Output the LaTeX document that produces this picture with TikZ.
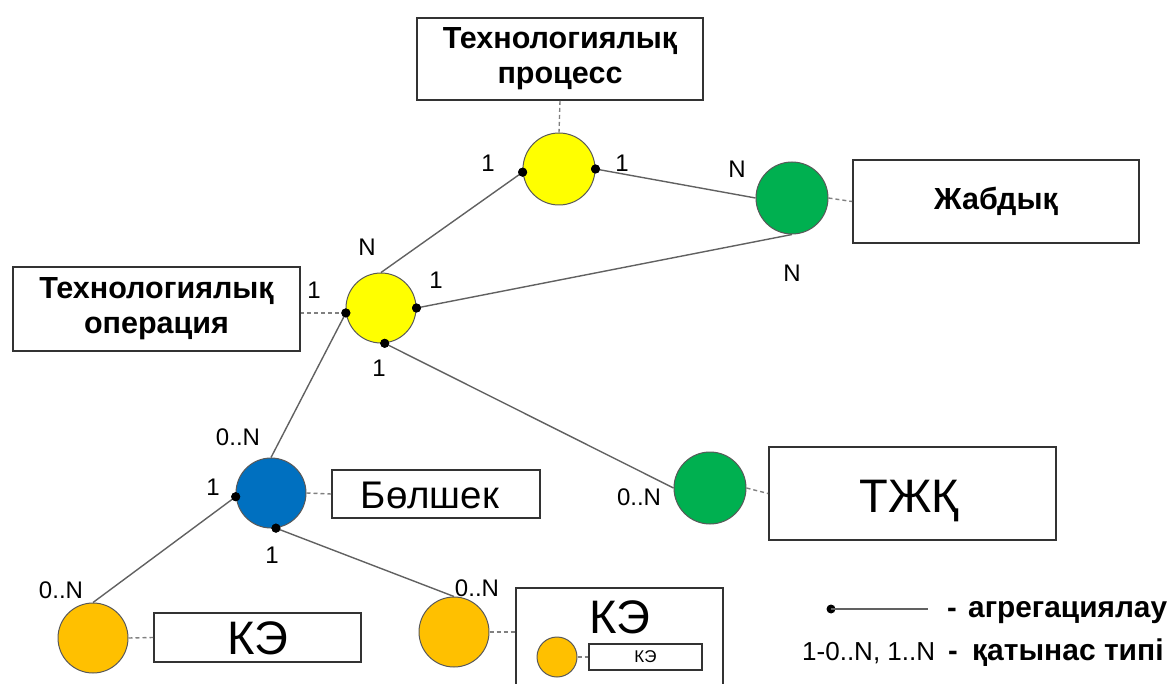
\documentclass[tikz,border=0pt]{standalone}
\usepackage{fontspec}
\setmainfont{Liberation Sans}
\definecolor{cyel}{HTML}{FFFF00}
\definecolor{cgrn}{HTML}{00B050}
\definecolor{cblu}{HTML}{0070C0}
\definecolor{corg}{HTML}{FFC000}
\begin{document}
\begin{tikzpicture}[x=1pt,y=-1pt,
  box/.style={draw=black!80, line width=1.8pt, fill=white, inner sep=0pt, align=center},
  ent/.style={circle, draw=black!65, line width=1pt, inner sep=0pt, minimum size=#1},
  conn/.style={draw=black!62, line width=1.4pt},
  dsh/.style={draw=black!50, line width=1.4pt, dash pattern=on 4pt off 3pt},
  dotn/.style={circle, fill=black, inner sep=0pt, minimum size=9pt},
  lab/.style={inner sep=0pt, font=\fontsize{24}{24}\selectfont},
  bold/.style={font=\fontsize{30.5}{35}\selectfont\bfseries},
]
\useasboundingbox (0,0) rectangle (1174,684);
\clip (0,0) rectangle (1174,684);

% boxes
\node[box, bold, minimum width=286pt, minimum height=82pt] (tp) at (560,59) {Технологиялық\\процесс};
\node[box, bold, minimum width=286pt, minimum height=83pt] (jb) at (996,201.5) {Жабдық};
\node[box, bold, minimum width=287pt, minimum height=84pt] (tob) at (156.5,309) {Технологиялық\\операция};
\node[box, minimum width=287pt, minimum height=93pt] (tb) at (912.5,493.5) {};
\node[inner sep=0pt, anchor=base, font=\fontsize{47}{47}\selectfont] (tbt) at (909,512) {ТЖҚ};
\node[box, minimum width=208pt, minimum height=48pt] (bb) at (436,494) {};
\node[inner sep=0pt, anchor=base, font=\fontsize{38.5}{38.5}\selectfont] (bbt) at (430,508) {Бөлшек};
\node[box, minimum width=207pt, minimum height=49pt] (k1b) at (257.5,637.5) {};
\node[inner sep=0pt, anchor=base, font=\fontsize{47}{47}\selectfont] (k1t) at (258,654) {КЭ};
\node[box, minimum width=207pt, minimum height=112pt] (k2b) at (619.5,644) {};
\node[inner sep=0pt, anchor=base, font=\fontsize{47}{47}\selectfont] (k2t) at (620,633) {КЭ};
\node[box, line width=1.5pt, font=\fontsize{17}{17}\selectfont, minimum width=113pt, minimum height=26pt] (ksb) at (645.5,657) {КЭ};

% entity circles
\node[ent=72pt, fill=cyel] (P) at (559,169) {};
\node[ent=72pt, fill=cgrn] (J) at (792,198) {};
\node[ent=70pt, fill=cyel] (O) at (381,308) {};
\node[ent=72pt, fill=cgrn] (T) at (710,488) {};
\node[ent=70pt, fill=cblu] (B) at (271,493) {};
\node[ent=70pt, fill=corg] (K1) at (93,638) {};
\node[ent=70pt, fill=corg] (K2) at (454,632) {};
\node[ent=40pt, fill=corg] (KS) at (557,657) {};

% aggregation dots
\node[dotn] (pL) at (P.185) {};
\node[dotn] (pR) at (P.east) {};
\node[dotn] (oR) at (O.east) {};
\node[dotn] (oL) at (O.188) {};
\node[dotn] (oB) at (O.-84) {};
\node[dotn] (bL) at (B.186) {};
\node[dotn] (bB) at (B.-82) {};

% connectors
\draw[conn] (pL.center) -- (O.north);
\draw[conn] (pR.center) -- (J.west);
\draw[conn] (oR.center) -- (J.south);
\draw[conn] (oB.center) -- (T.west);
\draw[conn] (oL.center) -- (B.north);
\draw[conn] (bL.center) -- (K1.north);
\draw[conn] (bB.center) -- (K2.north);

% dashed links
\draw[dsh] (tp.south) -- (P.north);
\draw[dsh] (J.east) -- (jb.west);
\draw[dsh] (oL.center) -- (oL.center -| tob.east);
\draw[dsh] (T.east) -- (tb.west);
\draw[dsh] (B.east) -- (bb.west);
\draw[dsh] (K1.east) -- (k1b.west);
\draw[dsh] (K2.east) -- (K2.east -| k2b.west);
\draw[dsh, line width=1.2pt] (KS.east) -- (ksb.west);

% redraw dots on top
\foreach \d in {pL,pR,oR,oL,oB,bL,bB} \fill (\d) circle (4.5pt);

% cardinality labels
\node[lab] (l1) at (488,163) {1};
\node[lab] (l2) at (622,163) {1};
\node[lab] (l3) at (737,169) {N};
\node[lab] (l4) at (792,273) {N};
\node[lab] (l5) at (367,247) {N};
\node[lab] (l6) at (436,280) {1};
\node[lab] (l7) at (314,290) {1};
\node[lab] (l8) at (379,368) {1};
\node[lab] (l9) at (639,497) {0..N};
\node[lab] (l10) at (238,437) {0..N};
\node[lab] (l11) at (213,487) {1};
\node[lab] (l12) at (272,555) {1};
\node[lab] (l13) at (61,590) {0..N};
\node[lab] (l14) at (477,588) {0..N};

% legend
\node[dotn] (lgd) at (831,609) {};
\coordinate (lge) at (928,609);
\draw[conn] (lgd.center) -- (lge);
\node[inner sep=0pt, anchor=base, font=\fontsize{29}{29}\selectfont\bfseries] (lgm1) at (952,617) {-};
\node[inner sep=0pt, anchor=base west, font=\fontsize{29.8}{29.8}\selectfont\bfseries] (lgt1) at (968,617) {агрегациялау};
\node[inner sep=0pt, anchor=base west, font=\fontsize{26}{26}\selectfont] (lgt2a) at (802,660) {1-0..N, 1..N};
\node[inner sep=0pt, anchor=base, font=\fontsize{29}{29}\selectfont\bfseries] (lgm2) at (953,660) {-};
\node[inner sep=0pt, anchor=base west, font=\fontsize{30}{30}\selectfont\bfseries] (lgt2) at (972,660) {қатынас типі};
\end{tikzpicture}
\end{document}
